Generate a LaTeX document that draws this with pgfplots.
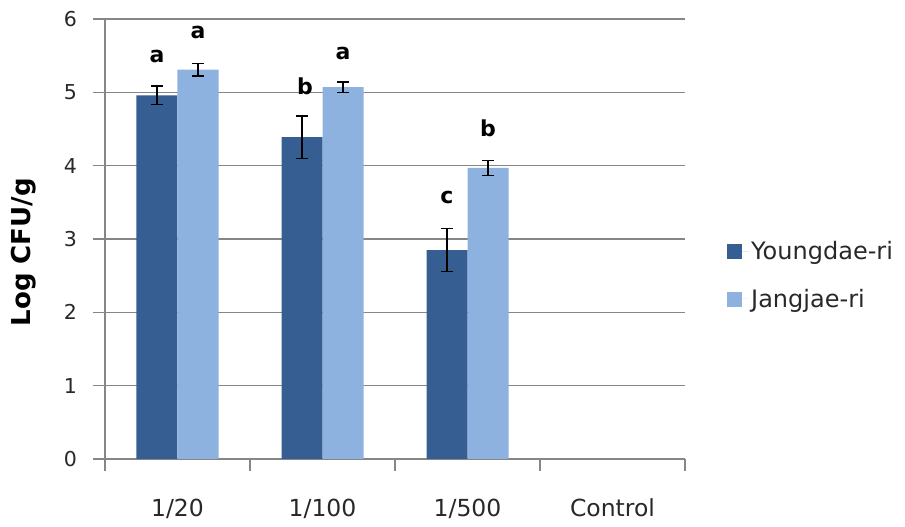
\documentclass[border=0pt]{standalone}
\usepackage{pgfplots}
\pgfplotsset{compat=1.18}
\usepackage{fontspec}
\setmainfont{DejaVu Sans}
\definecolor{darkbar}{RGB}{55,94,146}
\definecolor{lightbar}{RGB}{141,178,224}
\definecolor{gridgray}{RGB}{134,134,134}
\definecolor{txt}{RGB}{40,40,40}
\begin{document}
\begin{tikzpicture}
\useasboundingbox (-105pt,-68pt) rectangle (800pt,459pt);
\begin{axis}[
  scale only axis,
  width=580pt, height=440pt,
  xmin=-0.5, xmax=3.5, ymin=0, ymax=6,
  axis lines=left,
  axis line style={-, gridgray, line width=1.3pt},
  ybar=0pt, bar width=41pt,
  xtick={0,1,2,3},
  xticklabels={1/20,1/100,1/500,Control},
  minor xtick={-0.5,0.5,1.5,2.5,3.5},
  major x tick style={draw=none},
  minor x tick style={gridgray, line width=1.3pt},
  ytick={0,1,2,3,4,5,6},
  ymajorgrids,
  grid style={gridgray, line width=1.3pt},
  y tick style={gridgray, line width=1.3pt},
  tick align=outside,
  major tick length=12pt,
  minor tick length=12pt,
  /pgf/number format/assume math mode=true,
  xticklabel style={font=\fontsize{23.5}{26}\selectfont, text=txt, anchor=base, yshift=-46pt},
  yticklabel style={font=\fontsize{20.5}{24}\selectfont, text=txt, anchor=east, inner sep=0pt, xshift=-16pt},
  ylabel={\textbf{Log CFU/g}},
  ylabel style={font=\fontsize{26}{28}\selectfont, at={(axis description cs:-0.141,0.47)}, anchor=center},
  legend style={at={(1,0.418)}, anchor=west, xshift=42pt, draw=none, fill=none, inner sep=0pt,
     font=\fontsize{24}{28}\selectfont, text=txt, row sep=24pt, cells={anchor=west}},
  legend image code/.code={\fill[#1] (0pt,-8pt) rectangle (15pt,7pt); \path (0pt,0pt) -- (22pt,0pt);},
  legend cell align=left,
  error bars/y dir=both,
  error bars/y explicit,
  error bars/error bar style={black, line width=1.4pt},
  error bars/error mark options={rotate=90, mark size=6pt, line width=1.4pt, black},
]
\addplot[fill=darkbar, draw=none] coordinates {
  (0,4.96) +- (0,0.125)
  (1,4.39) +- (0,0.29)
  (2,2.85) +- (0,0.29)
};
\addplot[fill=lightbar, draw=none] coordinates {
  (0,5.31) +- (0,0.085)
  (1,5.07) +- (0,0.07)
  (2,3.97) +- (0,0.10)
};
\legend{Youngdae-ri,Jangjae-ri}
\node[xshift=-20.5pt, font=\fontsize{22}{24}\selectfont\bfseries] at (axis cs:0,5.49) {a};
\node[xshift=20.5pt, font=\fontsize{22}{24}\selectfont\bfseries] at (axis cs:0,5.81) {a};
\node[xshift=-17.5pt, font=\fontsize{22}{24}\selectfont\bfseries] at (axis cs:1,5.08) {b};
\node[xshift=20.5pt, font=\fontsize{22}{24}\selectfont\bfseries] at (axis cs:1,5.53) {a};
\node[xshift=-20.5pt, font=\fontsize{22}{24}\selectfont\bfseries] at (axis cs:2,3.56) {c};
\node[xshift=20.5pt, font=\fontsize{22}{24}\selectfont\bfseries] at (axis cs:2,4.51) {b};
\end{axis}
\end{tikzpicture}
\end{document}
